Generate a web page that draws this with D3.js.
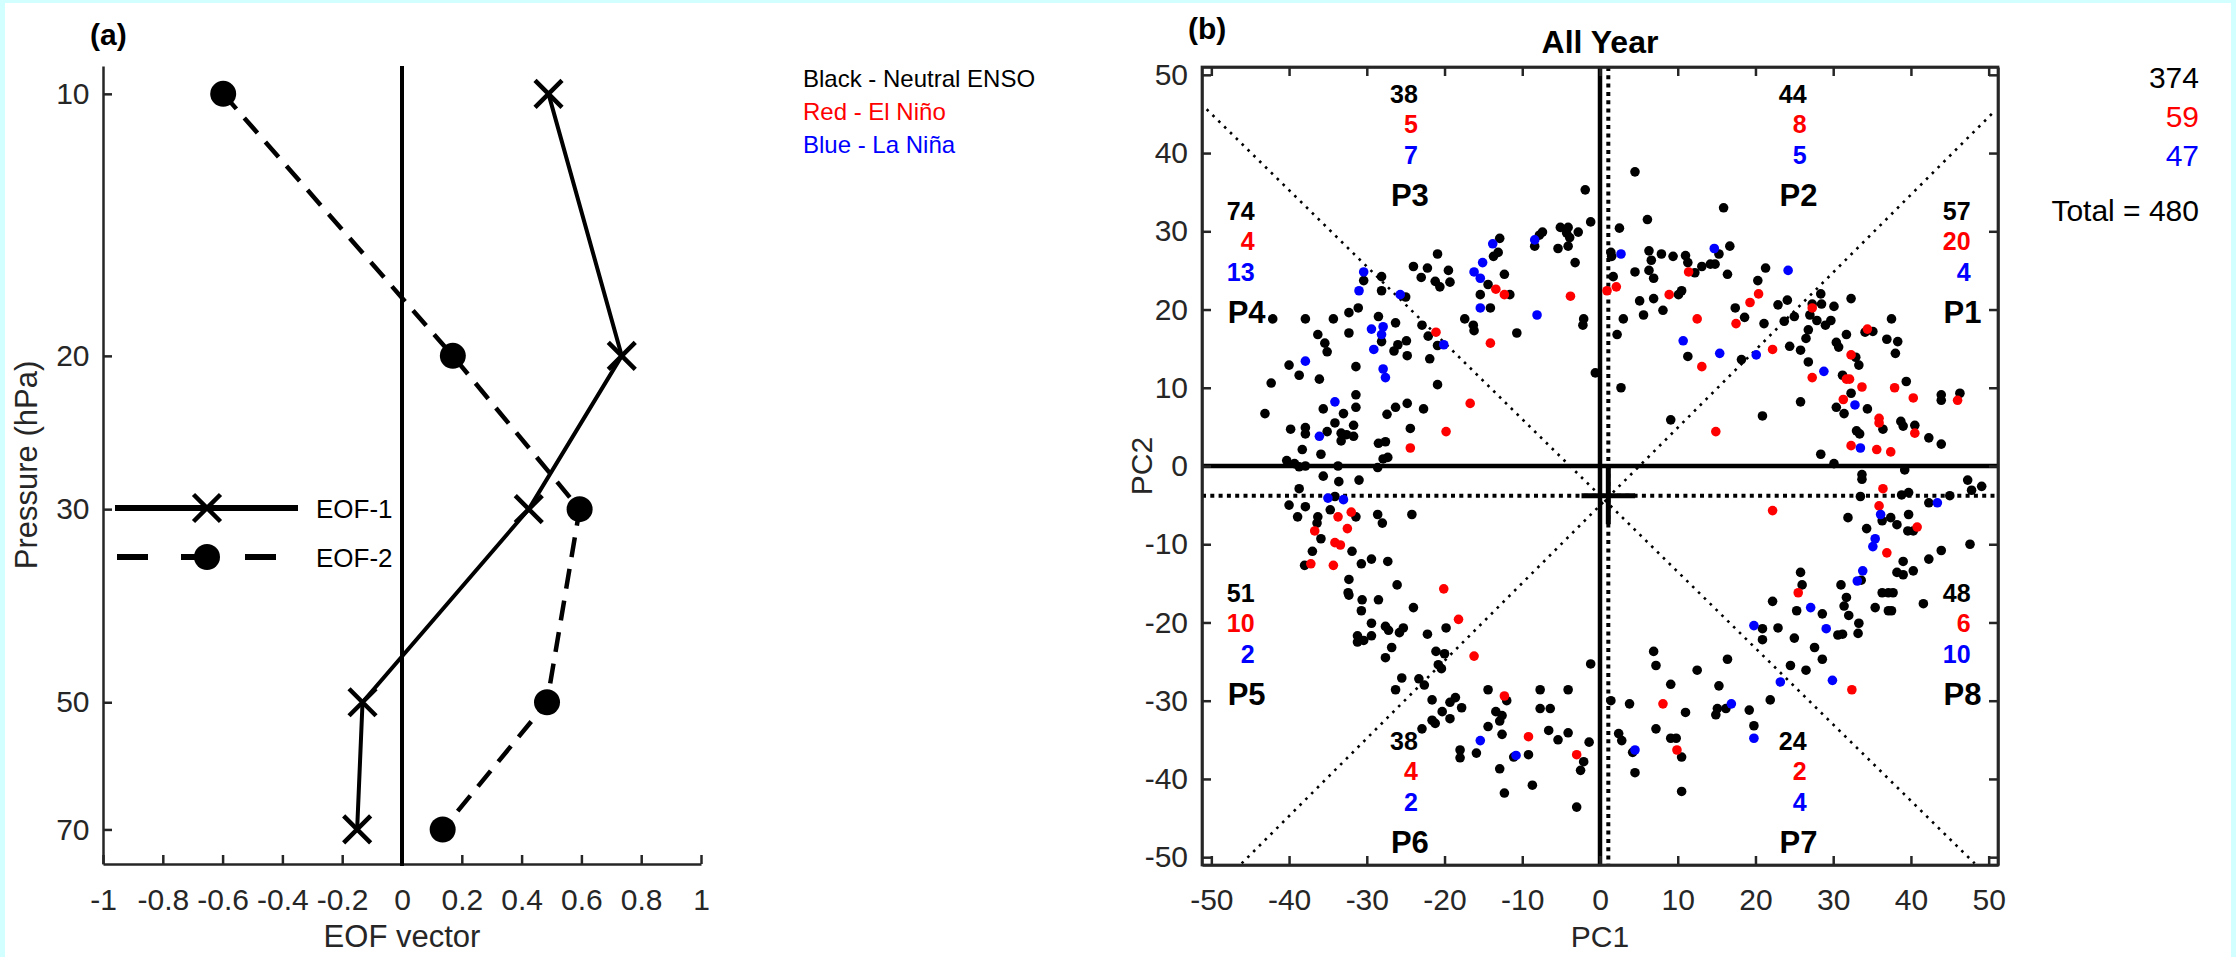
<!DOCTYPE html>
<html lang="en">
<head>
<meta charset="utf-8">
<title>EOF profiles and PC1-PC2 phase space</title>
<script src="https://d3js.org/d3.v7.min.js"></script>
<style>
  body { margin: 0; background: #d2ffff; }
  svg text { font-family: "Liberation Sans", Arial, sans-serif; }
</style>
</head>
<body>
<svg id="fig"></svg>
<script>
// ---- panel (a) data ----
const levels = [10, 20, 30, 50, 70];
const eof1 = [0.49, 0.735, 0.424, -0.132, -0.15];
const eof2 = [-0.598, 0.17, 0.594, 0.485, 0.136];
const eofTicks = [-1, -0.8, -0.6, -0.4, -0.2, 0, 0.2, 0.4, 0.6, 0.8, 1];
const levelTicks = [10, 20, 30, 50, 70];

// ---- panel (b) data: PC1, PC2 per ENSO phase ----
const neutral = [
  [-20.9,27.1],[-24.0,25.5],[-22.2,25.3],[-19.5,25.0],[-23.0,24.1],[-21.2,23.6],[-20.6,22.9],[-19.3,23.5],
  [-28.1,24.2],[-30.4,23.7],[-28.1,22.4],[-25.0,21.6],[-31.1,20.2],[-32.3,19.6],[-42.1,18.8],[-37.9,18.8],
  [-34.3,18.8],[-28.5,19.1],[-26.3,18.3],[-22.9,18.0],[-17.4,18.8],[-32.3,17.0],[-36.3,16.8],[-28.1,15.9],
  [-24.9,16.0],[-26.0,15.5],[-22.1,16.6],[-20.9,15.4],[-35.4,15.7],[-35.1,14.6],[-26.5,14.7],[-24.8,14.1],
  [-21.9,13.7],[-40.0,12.9],[-31.4,12.7],[-38.7,11.6],[-36.1,11.1],[-42.3,10.6],[-20.9,10.4],[-31.4,9.1],
  [-31.4,7.5],[-35.6,7.3],[-24.8,8.0],[-26.3,7.5],[-27.4,6.6],[-22.7,7.3],[-33.0,6.7],[-43.1,6.7],
  [-34.1,5.5],[-31.7,5.2],[-39.8,4.7],[-37.9,4.9],[-37.9,4.1],[-35.1,4.4],[-33.3,4.2],[-32.6,4.0],
  [-31.7,3.8],[-33.3,3.2],[-24.4,4.8],[-28.5,2.9],[-27.6,3.1],[-38.3,2.1],[-35.9,1.5],[-27.9,0.9],
  [-27.3,1.1],[-40.3,0.7],[-39.3,0.3],[-37.9,0.0],[-38.7,-0.1],[-33.7,0.0],[-28.6,-0.2],
  [4.5,37.6],[-1.9,35.3],[6.1,31.5],[-1.2,31.2],[2.5,30.4],[15.9,33.0],[-5.1,30.5],[-4.1,30.5],
  [-7.4,29.9],[-7.8,29.5],[-2.8,29.9],[-4.3,29.8],[-3.9,29.2],[-8.4,28.1],[-5.4,27.8],[-4.1,28.1],
  [-12.9,29.1],[-13.1,27.3],[-13.7,26.8],[-3.2,26.0],[-12.3,24.5],[-14.4,23.2],[-11.6,21.9],[-15.4,21.9],
  [-14.1,20.2],[-16.3,18.0],[-16.2,17.3],[-2.1,18.8],[-2.2,18.0],[-10.7,17.0],[-0.6,11.9],[1.4,27.3],
  [1.5,26.8],[6.3,27.5],[7.9,27.1],[9.4,26.8],[11.0,26.9],[11.3,26.0],[6.6,26.3],[15.3,27.1],
  [16.7,28.1],[13.1,25.5],[14.8,25.8],[14.2,25.8],[16.4,24.5],[4.5,24.8],[6.3,25.0],[6.9,24.0],
  [12.2,24.7],[1.7,24.2],[10.1,21.9],[10.5,22.4],[5.1,21.1],[6.9,21.4],[8.1,19.9],[5.6,19.3],
  [3.0,18.8],[2.2,16.8],[11.3,14.0],[2.7,10.0],[9.1,5.9],
  [21.3,25.3],[20.3,23.7],[17.4,20.2],[18.6,19.0],[21.1,18.2],[22.9,20.6],[24.1,21.2],[23.7,18.5],
  [25.0,19.1],[27.3,20.7],[28.4,22.0],[28.5,20.7],[27.0,19.3],[27.9,18.6],[29.0,18.0],[29.7,18.6],
  [30.1,20.4],[32.3,21.4],[26.8,17.4],[26.5,16.3],[24.4,15.3],[25.8,14.8],[26.8,13.3],[18.2,13.6],
  [30.4,15.8],[30.7,15.2],[31.7,16.8],[32.9,13.9],[33.3,12.9],[34.1,17.1],[35.1,17.2],[36.9,16.2],
  [37.5,18.8],[38.3,15.9],[38.0,14.4],[31.2,11.6],[39.4,10.8],[32.3,9.3],[34.4,7.3],[25.8,8.2],
  [30.4,7.5],[31.4,6.7],[20.9,6.4],[43.9,9.1],[43.9,8.4],[46.3,9.3],[36.4,4.7],[38.7,5.7],
  [39.0,5.1],[40.5,5.2],[42.3,3.6],[43.9,2.8],[33.0,4.5],[33.4,4.1],[28.4,1.5],[30.1,0.3],
  [-35.6,-1.3],[-33.6,-2.0],[-31.0,-1.8],[-38.7,-2.9],[-40.0,-5.0],[-37.9,-5.2],[-34.1,-3.9],[-34.7,-5.6],
  [-31.4,-6.5],[-38.9,-6.5],[-36.3,-6.5],[-36.4,-7.3],[-28.6,-6.2],[-28.0,-7.3],[-24.2,-6.2],[-35.9,-9.3],
  [-37.0,-10.9],[-31.9,-10.9],[-38.0,-12.7],[-30.7,-12.5],[-29.4,-11.9],[-27.3,-12.2],[-32.3,-14.5],[-26.1,-15.2],
  [-32.4,-16.2],[-32.3,-16.5],[-30.6,-17.1],[-28.5,-17.1],[-24.0,-18.1],[-30.7,-18.5],[-29.4,-20.1],[-27.6,-20.5],
  [-27.2,-21.0],[-25.8,-21.3],[-25.3,-20.7],[-31.2,-21.7],[-31.2,-22.5],[-30.4,-22.3],[-29.4,-21.7],[-22.2,-21.5],
  [-19.8,-20.7],[-26.8,-23.2],[-27.6,-24.5],[-21.1,-23.7],[-20.0,-24.0],[-20.8,-25.4],[-20.4,-25.9],[-25.5,-27.1],
  [-26.3,-28.6],[-23.3,-27.2],[-22.6,-28.0],[-21.6,-29.9],[-19.3,-30.2],[-18.6,-29.6],[-17.8,-30.9],[-20.3,-31.4],
  [-21.6,-32.5],[-21.2,-32.9],[-19.3,-32.3],[-22.9,-33.6],[-18.0,-36.3],[-18.0,-37.3],
  [-1.2,-25.3],[-14.4,-28.6],[-7.7,-28.6],[-4.1,-28.6],[-12.0,-30.0],[-7.7,-31.0],[-6.4,-31.0],[-13.4,-31.4],
  [-12.6,-31.9],[-12.9,-32.6],[-14.4,-33.3],[-6.6,-33.8],[-4.1,-34.1],[-12.6,-34.3],[-5.4,-35.0],[-1.4,-35.3],
  [-15.9,-36.7],[-11.1,-37.2],[-9.2,-36.9],[-2.1,-37.8],[-2.5,-38.9],[-12.9,-38.7],[-8.7,-40.8],[-12.3,-41.8],
  [-3.0,-43.6],[6.9,-23.7],[7.2,-25.5],[12.5,-26.1],[16.4,-24.7],[9.1,-27.9],[15.3,-28.1],[1.4,-30.0],
  [3.8,-30.4],[11.0,-31.5],[15.1,-31.0],[14.9,-31.8],[16.2,-31.0],[7.2,-33.6],[2.4,-34.2],[2.8,-35.1],
  [9.1,-34.8],[9.8,-34.8],[4.2,-36.6],[10.5,-37.2],[4.5,-39.2],[10.5,-41.6],
  [33.7,-1.1],[33.7,-1.7],[39.2,-0.5],[47.3,-1.8],[47.8,-3.1],[49.1,-2.6],[33.5,-3.9],[38.8,-3.7],
  [39.7,-3.4],[45.0,-3.8],[42.3,-4.7],[31.9,-6.6],[37.4,-6.6],[36.3,-7.0],[38.2,-7.5],[39.7,-6.2],
  [34.3,-8.0],[39.6,-8.3],[40.3,-8.3],[43.9,-10.8],[42.3,-11.9],[47.6,-10.0],[39.0,-12.2],[38.2,-13.6],
  [39.0,-13.9],[40.3,-13.4],[25.8,-13.6],[26.0,-15.2],[33.6,-14.6],[31.0,-15.2],[22.2,-17.3],[31.7,-16.8],
  [31.4,-17.9],[32.0,-19.1],[36.3,-16.2],[37.1,-16.2],[37.7,-16.2],[35.4,-18.1],[37.1,-18.5],[37.5,-18.5],
  [41.6,-17.6],[25.3,-18.5],[28.6,-18.9],[20.9,-20.8],[20.9,-22.2],[22.9,-20.7],[25.0,-22.0],[30.6,-21.6],
  [31.2,-21.5],[33.3,-20.1],[33.2,-21.4],[27.6,-23.2],[28.6,-24.7],[24.5,-25.5],[26.5,-26.1],[21.9,-29.9],
  [19.2,-31.2],[19.8,-33.2]
];
const elNino = [
  [-21.1,17.1],[-19.8,4.4],[-24.4,2.3],
  [-13.4,22.6],[-12.3,21.9],[-3.8,21.7],[-14.1,15.7],[-16.7,8.0],[11.4,24.8],[2.1,22.9],[0.9,22.4],
  [8.9,21.9],[12.5,18.8],[13.1,12.7],[14.9,4.4],
  [20.4,22.0],[19.3,20.9],[17.5,18.2],[27.3,20.2],[22.2,14.9],[32.3,14.2],[34.4,17.5],[27.3,11.3],
  [31.7,11.1],[32.1,11.1],[33.7,10.1],[37.9,10.0],[40.3,8.7],[31.3,8.5],[46.0,8.4],[35.9,6.1],
  [35.9,5.5],[40.5,4.2],[32.3,2.6],[35.6,2.1],[37.4,1.8],
  [-33.7,-6.5],[-32.0,-5.9],[-32.5,-8.0],[-36.7,-8.3],[-34.1,-9.8],[-33.4,-10.1],[-37.2,-12.5],[-34.3,-12.7],
  [-20.1,-15.7],[-18.2,-19.6],
  [-16.2,-24.3],[-12.3,-29.4],[-9.2,-34.6],[-3.0,-36.9],[8.1,-30.4],[9.9,-36.3],
  [36.4,-2.9],[22.2,-5.7],[35.9,-5.1],[40.8,-7.8],[36.9,-11.1],[25.5,-16.2],[32.4,-28.6]
];
const laNina = [
  [-30.4,24.8],[-31.0,22.4],[-25.7,21.9],[-29.4,17.5],[-27.9,17.8],[-28.1,16.8],[-20.1,15.5],[-29.1,14.9],
  [-37.9,13.4],[-27.9,12.4],[-27.6,11.3],[-34.1,8.2],[-36.1,3.8],
  [-8.4,28.9],[-13.8,28.4],[-15.1,26.0],[-16.2,24.8],[-15.4,24.0],[-15.4,20.2],[-8.1,19.3],[2.7,27.1],
  [14.7,27.8],[10.7,16.0],[15.4,14.4],
  [24.2,25.0],[20.1,14.2],[28.8,12.1],[32.8,7.8],[33.5,2.3],
  [-35.0,-4.1],[-33.0,-4.3],
  [-15.4,-35.1],[-10.8,-37.0],[16.9,-30.4],[4.5,-36.3],
  [43.4,-4.7],[36.1,-6.2],[35.4,-9.3],[35.1,-10.3],[33.8,-13.4],[33.1,-14.7],[27.1,-18.1],[19.8,-20.4],
  [29.1,-20.8],[23.2,-27.6],[29.9,-27.4],[19.8,-34.8]
];
const pcTicks = [-50, -40, -30, -20, -10, 0, 10, 20, 30, 40, 50];
const pcMean = [1.07, -3.79];
// sector boundaries (dotted diagonals), end points in PC space
const diagonals = [[[-50.6, 45.6], [48.2, -50.8]], [[-46.1, -50.8], [50.9, 45.5]]];

const regions = ["P1", "P2", "P3", "P4", "P5", "P6", "P7", "P8"];
const regionNeutral = [57, 44, 38, 74, 51, 38, 24, 48];
const regionElNino = [20, 8, 5, 4, 10, 4, 2, 6];
const regionLaNina = [4, 5, 7, 13, 2, 2, 4, 10];
const totals = [374, 59, 47];
const ensoLabels = ["Black - Neutral ENSO", "Red - El Niño", "Blue - La Niña"];

// ---- layout ----
const W = 2236, H = 957;
const ink = "#262626";
const cols = ["#000000", "#ff0000", "#0000ff"];
// label anchors (PC units) for each region's counts
const regionAnchor = [[44.2, 31.5], [23.1, 46.4], [-26.9, 46.4], [-47.9, 31.5],
                      [-47.9, -17.4], [-26.9, -36.3], [23.1, -36.3], [44.2, -17.4]];

const svg = d3.select("#fig").attr("width", W).attr("height", H);
svg.append("rect").attr("x", 0).attr("y", 0).attr("width", W).attr("height", H).attr("fill", "#d2ffff");
svg.append("rect").attr("x", 5).attr("y", 3).attr("width", W - 10).attr("height", H - 3).attr("fill", "#ffffff");

function styleAxis(g) {
  g.attr("font-family", null).attr("font-size", null);
  g.selectAll(".domain").attr("stroke", ink).attr("stroke-width", 2.5);
  g.selectAll(".tick line").attr("stroke", ink).attr("stroke-width", 2.5);
  g.selectAll(".tick text").attr("fill", ink).attr("font-size", 30);
}

// ================= panel (a) =================
const xa = d3.scaleLinear().domain([-1, 1]).range([103, 701]);
const ya = d3.scaleLog().domain([9.29, 76.7]).range([66, 864]);
const pa = svg.append("g");

pa.append("g").attr("transform", "translate(0,864)")
  .call(d3.axisBottom(xa).tickValues(eofTicks).tickSizeInner(-9).tickSizeOuter(0)
    .tickPadding(24.7).tickFormat(d => String(d)))
  .call(styleAxis);
pa.append("g").attr("transform", "translate(103,0)")
  .call(d3.axisLeft(ya).tickValues(levelTicks).tickSizeInner(-9).tickSizeOuter(0)
    .tickPadding(13.5).tickFormat(d => String(d)))
  .call(styleAxis);

pa.append("line").attr("x1", xa(0)).attr("x2", xa(0)).attr("y1", 66).attr("y2", 866)
  .attr("stroke", "#000").attr("stroke-width", 4);

const lineA = (vals) => d3.line().x((d, i) => xa(vals[i])).y(d => ya(d))(levels);
pa.append("path").attr("d", lineA(eof1)).attr("fill", "none").attr("stroke", "#000").attr("stroke-width", 4);
pa.append("path").attr("d", lineA(eof2)).attr("fill", "none").attr("stroke", "#000")
  .attr("stroke-width", 4.5).attr("stroke-dasharray", "20,12");

const cross = (h) => `M${-h},${-h}L${h},${h}M${-h},${h}L${h},${-h}`;
pa.selectAll("path.m1").data(levels).join("path").attr("class", "m1")
  .attr("transform", (d, i) => `translate(${xa(eof1[i])},${ya(d)})`)
  .attr("d", cross(13.5)).attr("stroke", "#000").attr("stroke-width", 4.5).attr("fill", "none");
pa.selectAll("circle.m2").data(levels).join("circle").attr("class", "m2")
  .attr("cx", (d, i) => xa(eof2[i])).attr("cy", d => ya(d)).attr("r", 13).attr("fill", "#000");

// legend
const lg = pa.append("g");
lg.append("line").attr("x1", 115).attr("x2", 298).attr("y1", 508).attr("y2", 508)
  .attr("stroke", "#000").attr("stroke-width", 6);
lg.append("path").attr("transform", "translate(207,508)").attr("d", cross(13.5))
  .attr("stroke", "#000").attr("stroke-width", 4.5);
lg.append("line").attr("x1", 117).attr("x2", 298).attr("y1", 557).attr("y2", 557)
  .attr("stroke", "#000").attr("stroke-width", 6).attr("stroke-dasharray", "31,33");
lg.append("circle").attr("cx", 207).attr("cy", 557).attr("r", 13).attr("fill", "#000");
lg.append("text").attr("x", 316).attr("y", 518).attr("font-size", 26).attr("fill", "#000").text("EOF-1");
lg.append("text").attr("x", 316).attr("y", 567).attr("font-size", 26).attr("fill", "#000").text("EOF-2");

pa.append("text").attr("x", 90).attr("y", 45).attr("font-size", 30).attr("font-weight", "bold").text("(a)");
pa.append("text").attr("x", xa(0)).attr("y", 947).attr("text-anchor", "middle")
  .attr("font-size", 31).attr("fill", ink).text("EOF vector");
pa.append("text").attr("transform", "translate(37,465) rotate(-90)").attr("text-anchor", "middle")
  .attr("font-size", 31).attr("fill", ink).text("Pressure (hPa)");

// ================= panel (b) =================
const xb = d3.scaleLinear().domain([-51.2, 51.2]).range([1202, 1998]);
const yb = d3.scaleLinear().domain([-51, 51]).range([865, 67]);
const pb = svg.append("g");

pb.append("clipPath").attr("id", "clipb").append("rect")
  .attr("x", 1202).attr("y", 67).attr("width", 796).attr("height", 798);
const inner = pb.append("g").attr("clip-path", "url(#clipb)");

// sector diagonals
inner.selectAll("line.diag").data(diagonals).join("line").attr("class", "diag")
  .attr("x1", d => xb(d[0][0])).attr("y1", d => yb(d[0][1]))
  .attr("x2", d => xb(d[1][0])).attr("y2", d => yb(d[1][1]))
  .attr("stroke", "#000").attr("stroke-width", 2.6).attr("stroke-dasharray", "2.6,5.6");
// mean lines (thick dotted)
inner.append("line").attr("x1", xb(pcMean[0])).attr("x2", xb(pcMean[0])).attr("y1", 67).attr("y2", 865)
  .attr("stroke", "#000").attr("stroke-width", 4).attr("stroke-dasharray", "4,4.3");
inner.append("line").attr("x1", 1202).attr("x2", 1998).attr("y1", yb(pcMean[1])).attr("y2", yb(pcMean[1]))
  .attr("stroke", "#000").attr("stroke-width", 4).attr("stroke-dasharray", "4,4.3");
// zero axes
inner.append("line").attr("x1", xb(0)).attr("x2", xb(0)).attr("y1", 60).attr("y2", 870)
  .attr("stroke", "#000").attr("stroke-width", 4.5);
inner.append("line").attr("x1", 1195).attr("x2", 2005).attr("y1", yb(0)).attr("y2", yb(0))
  .attr("stroke", "#000").attr("stroke-width", 4.5);

// points
[neutral, elNino, laNina].forEach((set, k) => {
  inner.append("g").selectAll("circle").data(set).join("circle")
    .attr("cx", d => xb(d[0])).attr("cy", d => yb(d[1])).attr("r", 4.8).attr("fill", cols[k]);
});

// mean cross
inner.append("line").attr("x1", xb(pcMean[0] - 3.45)).attr("x2", xb(pcMean[0] + 3.45))
  .attr("y1", yb(pcMean[1])).attr("y2", yb(pcMean[1])).attr("stroke", "#000").attr("stroke-width", 5);
inner.append("line").attr("x1", xb(pcMean[0])).attr("x2", xb(pcMean[0]))
  .attr("y1", yb(pcMean[1] + 3.65)).attr("y2", yb(pcMean[1] - 3.65)).attr("stroke", "#000").attr("stroke-width", 5);

// axes & frame
pb.append("g").attr("transform", "translate(0,865)")
  .call(d3.axisBottom(xb).tickValues(pcTicks).tickSizeInner(-9).tickSizeOuter(0)
    .tickPadding(23.7).tickFormat(d => String(d)))
  .call(styleAxis);
pb.append("g").attr("transform", "translate(0,67)")
  .call(d3.axisTop(xb).tickValues(pcTicks).tickSizeInner(-9).tickSizeOuter(0).tickFormat(""))
  .call(styleAxis);
pb.append("g").attr("transform", "translate(1202,0)")
  .call(d3.axisLeft(yb).tickValues(pcTicks).tickSizeInner(-9).tickSizeOuter(0)
    .tickPadding(14).tickFormat(d => String(d)))
  .call(styleAxis);
pb.append("g").attr("transform", "translate(1998,0)")
  .call(d3.axisRight(yb).tickValues(pcTicks).tickSizeInner(-9).tickSizeOuter(0).tickFormat(""))
  .call(styleAxis);
pb.append("rect").attr("x", 1202).attr("y", 67).attr("width", 796).attr("height", 798)
  .attr("fill", "none").attr("stroke", ink).attr("stroke-width", 2.7);

// region counts
const rg = pb.append("g").attr("font-weight", "bold");
regions.forEach((name, i) => {
  const x0 = xb(regionAnchor[i][0]), y0 = yb(regionAnchor[i][1]);
  [regionNeutral[i], regionElNino[i], regionLaNina[i]].forEach((v, k) => {
    rg.append("text").attr("x", x0 + 27).attr("y", y0 + [0, 30, 61][k]).attr("text-anchor", "end")
      .attr("font-size", 25).attr("fill", cols[k]).text(v);
  });
  rg.append("text").attr("x", x0).attr("y", y0 + 103).attr("font-size", 31).attr("fill", "#000").text(name);
});

// totals
totals.forEach((v, k) => {
  pb.append("text").attr("x", 2199).attr("y", [88, 127, 166][k]).attr("text-anchor", "end")
    .attr("font-size", 30).attr("fill", cols[k]).text(v);
});
pb.append("text").attr("x", 2199).attr("y", 221).attr("text-anchor", "end")
  .attr("font-size", 30).attr("fill", "#000").text("Total = " + d3.sum(totals));

// ENSO colour key
ensoLabels.forEach((t, k) => {
  pb.append("text").attr("x", 803).attr("y", [87, 120, 153][k]).attr("font-size", 24)
    .attr("fill", cols[k]).text(t);
});

pb.append("text").attr("x", 1188).attr("y", 39).attr("font-size", 30).attr("font-weight", "bold").text("(b)");
pb.append("text").attr("x", xb(0)).attr("y", 53).attr("text-anchor", "middle")
  .attr("font-size", 32).attr("font-weight", "bold").text("All Year");
pb.append("text").attr("x", xb(0)).attr("y", 947).attr("text-anchor", "middle")
  .attr("font-size", 30).attr("fill", ink).text("PC1");
pb.append("text").attr("transform", "translate(1152,466) rotate(-90)").attr("text-anchor", "middle")
  .attr("font-size", 30).attr("fill", ink).text("PC2");
</script>
</body>
</html>
